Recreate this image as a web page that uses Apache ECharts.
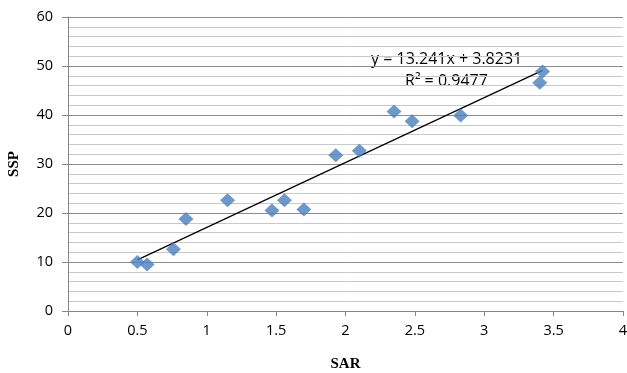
<!DOCTYPE html>
<html>
<head>
<meta charset="utf-8">
<script src="https://cdn.jsdelivr.net/npm/echarts@6/dist/echarts.min.js"></script>
<style>
  html, body { margin: 0; padding: 0; background: #fff; }
  #main { width: 627px; height: 373px; }
</style>
</head>
<body>
<div id="main"></div>
<script>
// SAR vs SSP readings
var sarValues = [0.5, 0.57, 0.76, 0.85, 1.15, 1.47, 1.56, 1.70, 1.93, 2.10, 2.35, 2.48, 2.83, 3.40, 3.42];
var sspValues = [10.0, 9.5, 12.6, 18.8, 22.6, 20.5, 22.6, 20.7, 31.8, 32.7, 40.7, 38.7, 39.9, 46.6, 48.9];
// linear trendline ends (y = 13.241x + 3.8231)
var trendX = [0.5, 3.42];
var trendY = [10.44, 49.11];
var equationText = 'y = 13.241x + 3.8231';
var r2Text = 'R² = 0.9477';

var points = sarValues.map(function (x, i) { return [x, sspValues[i]]; });
var trend = trendX.map(function (x, i) { return [x, trendY[i]]; });

var chart = echarts.init(document.getElementById('main'));
var labelFont = '"Open Sans", Lato, sans-serif';

chart.setOption({
    animation: false,
    grid: { left: 68, right: 4, top: 17, bottom: 62, containLabel: false, outerBoundsMode: 'none' },
    xAxis: {
        type: 'value',
        min: 0, max: 4, interval: 0.5,
        name: 'SAR',
        nameLocation: 'middle',
        nameGap: 46,
        nameTextStyle: { fontFamily: '"Liberation Serif", serif', fontWeight: 'bold', fontSize: 15, color: '#000' },
        axisLine: { lineStyle: { color: '#868686' } },
        axisTick: { show: true, length: 5, lineStyle: { color: '#868686' } },
        axisLabel: { color: '#000', fontFamily: labelFont, fontSize: 14.5, margin: 12 },
        splitLine: { show: false }
    },
    yAxis: {
        type: 'value',
        min: 0, max: 60, interval: 10,
        name: 'SSP',
        nameLocation: 'middle',
        nameGap: 46,
        nameTextStyle: { fontFamily: '"Liberation Serif", serif', fontWeight: 'bold', fontSize: 15, color: '#000' },
        axisLine: { show: true, lineStyle: { color: '#868686' } },
        axisTick: { show: true, length: 6, lineStyle: { color: '#868686' } },
        axisLabel: { color: '#000', fontFamily: labelFont, fontSize: 14.5, margin: 15 },
        splitLine: { show: true, lineStyle: { color: '#8c8c8c', width: 1 } },
        minorTick: { show: false, splitNumber: 5 },
        minorSplitLine: { show: true, lineStyle: { color: '#c8c8c8', width: 1 } }
    },
    series: [
        {
            name: 'SSP',
            type: 'scatter',
            symbol: 'diamond',
            symbolSize: [15, 14],
            itemStyle: { color: '#4a7ebb' },
            data: points,
            z: 3
        },
        {
            name: 'Linear',
            type: 'line',
            symbol: 'none',
            lineStyle: { color: '#000', width: 1.2 },
            data: trend,
            z: 2
        }
    ],
    graphic: [
        {
            type: 'text', left: 371, top: 51,
            style: { text: equationText, fill: '#000', font: '16px ' + labelFont }
        },
        {
            type: 'text', left: 405, top: 73,
            style: { text: r2Text, fill: '#000', font: '16px ' + labelFont }
        }
    ]
});
</script>
</body>
</html>
